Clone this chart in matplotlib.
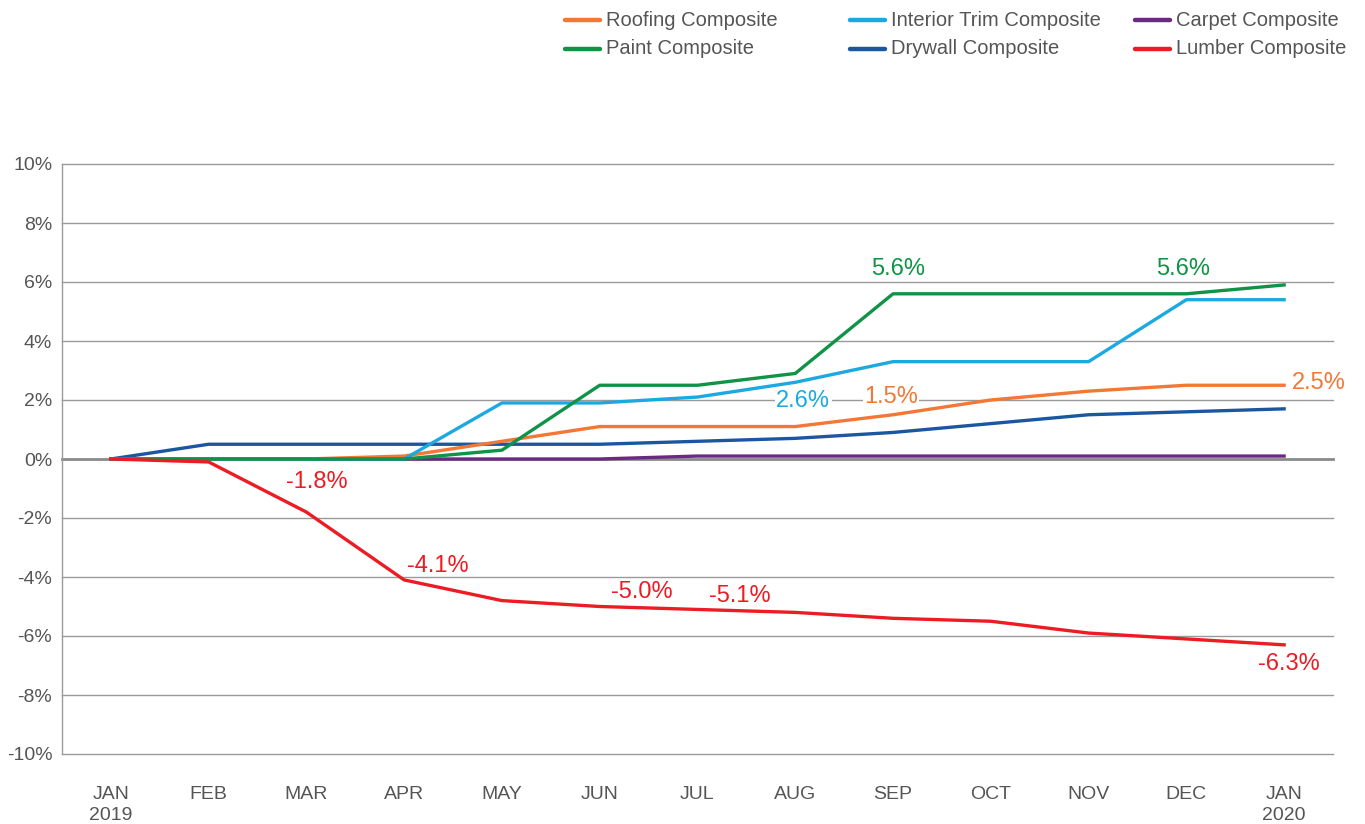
import matplotlib
matplotlib.use("Agg")
import matplotlib.pyplot as plt
from matplotlib.lines import Line2D

months = ["JAN\n2019", "FEB", "MAR", "APR", "MAY", "JUN", "JUL", "AUG", "SEP", "OCT", "NOV", "DEC", "JAN\n2020"]
roofing = [0, 0, 0, 0.1, 0.6, 1.1, 1.1, 1.1, 1.5, 2.0, 2.3, 2.5, 2.5]
interior = [0, 0, 0, 0, 1.9, 1.9, 2.1, 2.6, 3.3, 3.3, 3.3, 5.4, 5.4]
carpet = [0, 0, 0, 0, 0, 0, 0.1, 0.1, 0.1, 0.1, 0.1, 0.1, 0.1]
paint = [0, 0, 0, 0, 0.3, 2.5, 2.5, 2.9, 5.6, 5.6, 5.6, 5.6, 5.9]
drywall = [0, 0.5, 0.5, 0.5, 0.5, 0.5, 0.6, 0.7, 0.9, 1.2, 1.5, 1.6, 1.7]
lumber = [0, -0.1, -1.8, -4.1, -4.8, -5.0, -5.1, -5.2, -5.4, -5.5, -5.9, -6.1, -6.3]
yticks = [-10, -8, -6, -4, -2, 0, 2, 4, 6, 8, 10]

C_ROOF = "#F37735"
C_INT = "#1BA9E1"
C_CARP = "#6A2A84"
C_PAINT = "#0F9347"
C_DRY = "#1B56A0"
C_LUMB = "#ED1C24"

FONT = ["Liberation Sans Narrow", "Liberation Sans", "DejaVu Sans"]
plt.rcParams["font.family"] = FONT

fig = plt.figure(figsize=(13.65, 8.24), dpi=100)
ax = fig.add_axes([62 / 1365, 1 - 754 / 824, (1333 - 62) / 1365, (754 - 164) / 824])

x = list(range(len(months)))
for yv in yticks:
    if yv == 0:
        ax.axhline(yv, color="#8a8a8a", lw=2.0, zorder=1, clip_on=False)
    else:
        ax.axhline(yv, color="#9a9a9a", lw=1.0, zorder=1, clip_on=False)

series = [
    ("Carpet Composite", carpet, C_CARP),
    ("Drywall Composite", drywall, C_DRY),
    ("Roofing Composite", roofing, C_ROOF),
    ("Interior Trim Composite", interior, C_INT),
    ("Paint Composite", paint, C_PAINT),
    ("Lumber Composite", lumber, C_LUMB),
]
for name, vals, col in series:
    ax.plot(x, vals, color=col, lw=2.4, zorder=3, solid_joinstyle="round")

ax.set_xlim(-0.5, 12.5)
ax.set_ylim(-10, 10)
ax.set_yticks(yticks)
ax.set_yticklabels([f"{v}%" for v in yticks])
ax.set_xticks(x)
ax.set_xticklabels(months, linespacing=1.35)
ax.tick_params(axis="both", length=0, labelsize=14, labelcolor="#555555")
ax.tick_params(axis="x", pad=23)
ax.tick_params(axis="y", pad=7)
for s in ["top", "right", "bottom"]:
    ax.spines[s].set_visible(False)
ax.spines["left"].set_color("#9a9a9a")
ax.spines["left"].set_linewidth(1.0)

def ann(i, vals, dx, dy, col, ha="center", box=False):
    v = vals[i]
    kw = dict(color=col, fontsize=17, ha=ha, va="center", zorder=5)
    if box:
        kw["bbox"] = dict(facecolor="white", edgecolor="none", pad=1)
    ax.annotate(f"{v:.1f}%", (i, v), xytext=(dx, dy), textcoords="offset pixels", **kw)

ann(2, lumber, 10, 30, C_LUMB)
ann(3, lumber, 34, 14, C_LUMB)
ann(5, lumber, 42, 14, C_LUMB)
ann(6, lumber, 42, 13, C_LUMB)
ann(12, lumber, 5, -19, C_LUMB)
ann(8, paint, 5, 25, C_PAINT)
ann(11, paint, -3, 25, C_PAINT)
ann(7, interior, 8, -19, C_INT, box=True)
ann(8, roofing, -2, 18, C_ROOF, box=True)
ann(12, roofing, 8, 2, C_ROOF, ha="left")

# legend (manual)
leg = [
    ("Roofing Composite", C_ROOF, 565, 20),
    ("Paint Composite", C_PAINT, 565, 49),
    ("Interior Trim Composite", C_INT, 850, 20),
    ("Drywall Composite", C_DRY, 850, 49),
    ("Carpet Composite", C_CARP, 1135, 20),
    ("Lumber Composite", C_LUMB, 1135, 49),
]
for name, col, px, py in leg:
    yf = 1 - py / 824
    fig.add_artist(Line2D([px / 1365, (px + 35) / 1365], [yf, yf], color=col, lw=3.2,
                          solid_capstyle="round", transform=fig.transFigure))
    fig.text((px + 41) / 1365, yf, name, fontsize=14.5, color="#555555", va="center", ha="left")

fig.savefig("out.png", dpi=100, facecolor="white")
